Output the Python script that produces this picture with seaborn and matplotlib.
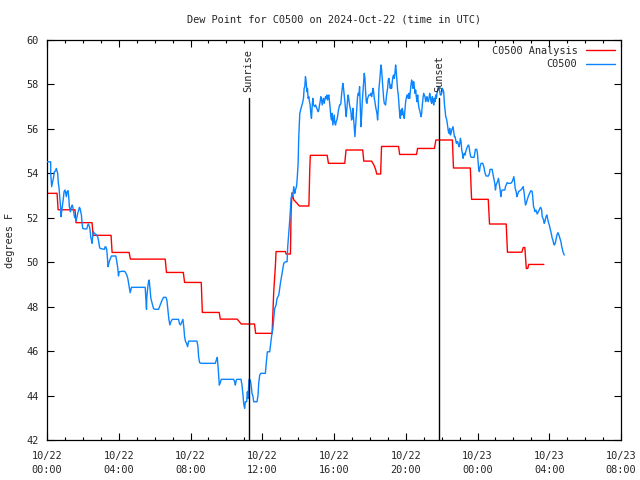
import matplotlib
matplotlib.use("Agg")
import matplotlib.pyplot as plt
import pandas as pd
import seaborn as sns
from matplotlib.ticker import FixedLocator, MultipleLocator

# ---- data (hours since 2024-10-22 00:00 UTC, dew point in F) ----
analysis_hours = [0.0, 0.56, 0.62, 1.56, 1.62, 2.51, 2.57, 3.57, 3.63, 4.58, 4.65, 6.59, 6.66, 7.6,
                  7.67, 8.6, 8.66, 9.6, 9.66, 10.6, 10.83, 11.57, 11.63, 12.55, 12.64, 12.73, 12.77,
                  13.29, 13.33, 13.57, 13.61, 13.66, 13.76, 13.85, 14.07, 14.6, 14.65, 14.68, 15.62,
                  15.69, 16.6, 16.67, 17.6, 17.66, 18.1, 18.17, 18.25, 18.33, 18.38, 18.6, 18.65,
                  19.6, 19.66, 20.6, 20.66, 21.6, 21.68, 22.6, 22.66, 23.6, 23.67, 24.6, 24.67, 25.6,
                  25.67, 26.47, 26.55, 26.64, 26.72, 26.8, 26.86, 27.7]
analysis_dewpt = [53.1, 53.1, 52.36, 52.36, 51.78, 51.78, 51.21, 51.21, 50.44, 50.44, 50.14, 50.14,
                  49.54, 49.54, 49.09, 49.09, 47.74, 47.74, 47.44, 47.44, 47.22, 47.22, 46.8, 46.8,
                  48.68, 49.8, 50.48, 50.48, 50.37, 50.37, 52.35, 53.13, 52.8, 52.73, 52.53, 52.53,
                  54.2, 54.81, 54.81, 54.45, 54.45, 55.05, 55.05, 54.55, 54.55, 54.45, 54.33, 54.15,
                  53.97, 53.97, 55.21, 55.21, 54.85, 54.85, 55.12, 55.12, 55.5, 55.5, 54.24, 54.24,
                  52.83, 52.83, 51.72, 51.72, 50.45, 50.45, 50.66, 50.66, 49.72, 49.72, 49.9, 49.9]

obs_hours = [
    0.0, 0.205, 0.206, 0.26, 0.317, 0.372, 0.41, 0.484, 0.521, 0.558, 0.596, 0.633, 0.67, 0.707,
    0.763, 0.782, 0.819, 0.857, 0.912, 0.95, 1.005, 1.043, 1.08, 1.117, 1.173, 1.21, 1.247, 1.303,
    1.34, 1.378, 1.415, 1.452, 1.49, 1.527, 1.583, 1.62, 1.676, 1.713, 1.769, 1.806, 1.843, 1.88,
    1.918, 1.955, 1.992, 2.067, 2.216, 2.272, 2.309, 2.365, 2.402, 2.44, 2.477, 2.514, 2.551, 2.588,
    2.644, 2.775, 2.83, 2.868, 2.923, 2.961, 3.203, 3.24, 3.296, 3.333, 3.37, 3.407, 3.445, 3.5,
    3.594, 3.836, 3.892, 3.948, 3.985, 4.022, 4.264, 4.357, 4.45, 4.506,
    4.635, 4.71, 5.473, 5.51, 5.547, 5.566, 5.622, 5.66, 5.696, 5.734, 5.79, 5.864, 5.938, 6.013,
    6.218, 6.311, 6.404, 6.497, 6.627, 6.683, 6.739, 6.795, 6.85, 6.907, 6.981, 7.335, 7.391, 7.447,
    7.52, 7.577, 7.633, 7.67, 7.726, 7.782, 7.838, 7.894, 8.36, 8.415, 8.452, 8.508, 8.601, 9.383,
    9.439, 9.495, 9.55, 9.607, 9.662, 9.718, 10.22,
    10.405, 10.46, 10.5, 10.555, 10.59, 10.815, 10.87, 10.927, 10.964, 11.02, 11.057, 11.13, 11.17,
    11.206, 11.262, 11.336, 11.39, 11.43, 11.485, 11.523, 11.709, 11.765, 11.802, 11.858, 11.914,
    12.174, 12.23, 12.286, 12.416, 12.472, 12.528, 12.584, 12.64, 12.695, 12.77, 12.826, 12.92,
    13.012, 13.105, 13.198, 13.29, 13.385, 13.42, 13.478, 13.534, 13.57, 13.608, 13.645, 13.7,
    13.757, 13.813, 13.85, 13.906, 13.943, 14.0, 14.036, 14.093,
    14.186, 14.242, 14.298, 14.335, 14.372, 14.409, 14.447, 14.484, 14.521, 14.558, 14.596, 14.633,
    14.67, 14.707, 14.744, 14.782, 14.819, 14.856, 14.931, 14.968, 15.005, 15.042, 15.08, 15.117,
    15.154, 15.191, 15.229, 15.266, 15.303, 15.34, 15.378, 15.415, 15.452, 15.489, 15.527, 15.564,
    15.601, 15.638, 15.675, 15.713, 15.75, 15.787, 15.824, 15.862, 15.899, 15.936, 15.973, 16.011,
    16.048, 16.085, 16.122, 16.16, 16.197, 16.234, 16.271, 16.309, 16.346, 16.383, 16.42, 16.458,
    16.495, 16.532, 16.569, 16.606, 16.644, 16.681, 16.718, 16.755, 16.793, 16.83, 16.867, 16.904,
    16.942, 16.979, 17.016, 17.053, 17.091, 17.128, 17.165, 17.202, 17.24, 17.277, 17.314, 17.351,
    17.389, 17.426, 17.463, 17.5, 17.537, 17.575, 17.612, 17.649, 17.686, 17.724, 17.761, 17.798,
    17.835, 17.873, 17.947, 18.022, 18.059, 18.096, 18.133, 18.171, 18.208, 18.245, 18.282, 18.32,
    18.357, 18.394, 18.431, 18.469, 18.506, 18.543, 18.58, 18.618, 18.655, 18.692, 18.729, 18.766,
    18.804,
    18.876, 18.932, 18.988, 19.025, 19.062, 19.1, 19.137, 19.174, 19.211, 19.248, 19.286, 19.323,
    19.36, 19.397, 19.435, 19.472, 19.509, 19.546, 19.584, 19.621, 19.658, 19.695, 19.733, 19.77,
    19.807, 19.844, 19.881, 19.919, 19.956, 19.993, 20.03, 20.068, 20.105, 20.142, 20.179, 20.217,
    20.254, 20.291, 20.328, 20.366, 20.403, 20.44, 20.477, 20.515, 20.552, 20.589, 20.626, 20.664,
    20.701, 20.738, 20.775, 20.812, 20.85, 20.887, 20.924, 20.961, 20.999, 21.036, 21.073, 21.11,
    21.148, 21.185, 21.222, 21.259, 21.297, 21.334, 21.371, 21.408, 21.446, 21.483, 21.52, 21.557,
    21.595, 21.632, 21.669, 21.706, 21.743, 21.781, 21.818, 21.855, 21.892, 21.93, 21.967, 22.004,
    22.041, 22.079, 22.116, 22.153, 22.19, 22.228, 22.265, 22.302, 22.339, 22.377, 22.414, 22.451,
    22.488, 22.526, 22.563, 22.6, 22.637, 22.674, 22.712, 22.749, 22.786, 22.823, 22.861, 22.898,
    22.935, 22.972, 23.01, 23.047, 23.084, 23.121, 23.159, 23.196, 23.233, 23.27, 23.308,
    23.344, 23.4, 23.437, 23.493, 23.53, 23.567, 23.623, 23.661, 23.81, 23.847, 23.884, 23.958,
    23.996, 24.033, 24.07, 24.107, 24.145, 24.2, 24.294, 24.35, 24.387, 24.424, 24.48, 24.61, 24.666,
    24.703, 24.815, 24.852, 24.889, 24.927, 24.964, 25.001, 25.038, 25.076, 25.113, 25.169, 25.225,
    25.262, 25.299, 25.336, 25.374, 25.523, 25.56, 25.597, 25.653, 25.709, 25.858, 25.932, 25.969,
    26.025, 26.063, 26.1, 26.156, 26.193, 26.249, 26.286, 26.416, 26.491, 26.547, 26.603, 26.64,
    26.677, 26.714, 26.77, 26.826, 26.9, 26.975, 27.049, 27.087, 27.124, 27.161, 27.198, 27.254,
    27.291, 27.329, 27.366, 27.422, 27.478, 27.515, 27.571, 27.608, 27.645, 27.682, 27.72, 27.757,
    27.794, 27.831, 27.869, 27.906, 27.943, 27.98, 28.018, 28.055, 28.092, 28.129, 28.166, 28.204,
    28.241, 28.278, 28.315, 28.353, 28.39, 28.427, 28.483, 28.539, 28.595, 28.651, 28.688, 28.725,
    28.762, 28.8, 28.837]
obs_dewpt = [
    54.52, 54.52, 54.0, 53.4, 53.62, 53.85, 54.07, 54.12, 54.22, 54.12, 54.0, 53.55, 53.37, 52.95,
    52.42, 52.05, 52.27, 52.53, 52.87, 53.17, 53.25, 53.1, 52.95, 53.17, 53.22, 52.95, 52.5, 52.27,
    52.42, 52.53, 52.57, 52.42, 52.27, 52.05, 51.97, 51.87, 52.05, 52.2, 52.35, 52.47, 52.42, 52.27,
    52.12, 51.75, 51.52, 51.5, 51.5, 51.67, 51.72, 51.6, 51.45, 51.12, 51.0, 50.85, 51.18, 51.37,
    51.3, 51.22, 51.12, 51.0, 50.7, 50.62, 50.58, 50.7, 50.67, 50.55, 50.17, 49.8, 49.95, 50.1,
    50.28, 50.28, 50.02, 49.72, 49.38, 49.57, 49.6, 49.57, 49.42, 49.27,
    48.63, 48.87, 48.87, 48.37, 47.88, 48.45, 48.9, 49.12, 49.2, 48.9, 48.37, 48.15, 47.92, 47.88,
    47.88, 48.07, 48.27, 48.42, 48.42, 48.3, 47.85, 47.43, 47.18, 47.32, 47.43, 47.43, 47.22, 47.18,
    47.32, 47.43, 47.02, 46.65, 46.42, 46.35, 46.2, 46.45, 46.45, 46.2, 45.75, 45.48, 45.45, 45.45,
    45.6, 45.72, 45.15, 44.47, 44.58, 44.73, 44.73,
    44.73, 44.62, 44.47, 44.7, 44.73, 44.73, 44.47, 44.02, 43.65, 43.42, 43.72, 43.72, 44.17,
    43.87, 44.73, 44.7, 44.4, 44.1, 43.95, 43.72, 43.72, 44.02, 44.55, 44.92, 45.0,
    45.0, 45.52, 45.97, 45.97, 46.35, 46.72, 46.95, 47.47, 47.92, 48.07, 48.37, 48.52,
    49.05, 49.5, 49.95, 50.02, 50.02, 50.7, 51.3, 51.9, 52.35, 52.87, 53.02, 52.95,
    53.4, 53.1, 53.25, 53.4, 53.7, 54.45, 55.65, 56.7,
    57.0, 57.15, 57.375, 57.825, 57.9, 58.35, 58.125, 57.675, 57.825, 57.375, 57.45, 57.225,
    57.075, 56.7, 56.475, 57.0, 57.375, 57.075, 57.0, 57.075, 57.0, 56.925, 56.85, 56.775,
    56.85, 57.075, 57.225, 57.45, 57.375, 57.075, 57.225, 57.375, 57.15, 57.3, 57.45, 57.375,
    57.525, 57.3, 57.45, 57.525, 57.225, 56.925, 56.55, 56.4, 56.7, 56.175, 56.4, 56.625,
    56.25, 56.175, 56.325, 56.4, 56.55, 56.775, 56.925, 57.075, 57.075, 57.15, 57.525, 57.825,
    58.05, 57.825, 57.525, 57.225, 56.85, 56.55, 56.925, 57.3, 57.525, 57.3, 57.075, 56.925,
    56.775, 56.4, 56.475, 56.925, 56.475, 56.1, 55.65, 56.1, 56.625, 57.075, 57.45, 57.6,
    57.525, 57.9, 57.075, 56.1, 56.55, 57.225, 57.675, 58.125, 58.5, 58.275, 57.675, 57.225,
    57.15, 57.375, 57.525, 57.525, 57.6, 57.45, 57.6, 57.825, 57.675, 57.375, 57.225, 57.0,
    56.85, 56.7, 56.4, 56.925, 57.825, 58.125, 58.5, 58.875, 58.65, 58.2, 57.825, 57.375,
    57.15,
    57.075, 57.525, 57.825, 58.2, 58.275, 58.05, 57.825, 57.975, 57.825, 58.125, 58.35, 58.425,
    58.275, 58.5, 58.875, 58.575, 58.125, 57.75, 57.525, 57.075, 56.7, 56.475, 56.85, 56.625,
    56.925, 56.775, 56.55, 56.475, 56.85, 57.225, 57.375, 57.525, 57.525, 57.375, 57.6, 57.375,
    57.675, 57.975, 58.2, 58.05, 57.825, 58.125, 57.9, 57.6, 57.75, 57.45, 57.225, 57.525,
    57.15, 56.925, 56.85, 56.7, 56.55, 56.7, 57.075, 57.375, 57.6, 57.525, 57.45, 57.225,
    57.375, 57.45, 57.3, 57.225, 57.375, 57.6, 57.45, 57.225, 57.15, 57.45, 57.3, 57.075,
    57.375, 57.225, 57.525, 57.375, 57.6, 57.75, 57.9, 57.825, 57.675, 57.525, 57.525, 57.6,
    57.825, 57.75, 57.675, 57.15, 56.85, 56.55, 56.475, 56.325, 56.1, 55.875, 55.8, 56.025,
    55.725, 55.8, 55.95, 56.025, 56.1, 55.875, 55.65, 55.65, 55.5, 55.35, 55.425, 55.425,
    55.275, 55.2, 55.35, 55.575, 55.425, 55.05, 54.9, 54.675, 54.825, 54.9, 54.825,
    54.975, 55.125, 55.2, 55.275, 55.2, 54.975, 54.75, 54.72, 54.72, 54.9, 55.08, 55.08,
    54.9, 54.525, 54.15, 54.075, 54.3, 54.45, 54.45, 54.3, 54.15, 54.0, 53.88, 53.88, 54.0,
    54.18, 54.18, 54.0, 53.85, 53.7, 53.55, 53.25, 53.475, 53.55, 53.625, 53.775, 53.475,
    53.25, 52.95, 53.175, 53.25, 53.25, 53.4, 53.475, 53.58, 53.55, 53.55, 53.625, 53.7,
    53.85, 53.625, 53.325, 53.175, 52.95, 53.07, 53.175, 53.25, 53.325, 53.4, 53.1, 52.8,
    52.575, 52.65, 52.8, 52.95, 53.1, 53.22, 53.175, 52.875, 52.5, 52.425, 52.275, 52.35,
    52.275, 52.17, 52.23, 52.32, 52.425, 52.47, 52.38, 52.05, 51.975, 51.9, 51.75, 51.825,
    51.975, 52.08, 52.125, 51.975, 51.825, 51.72, 51.63, 51.48, 51.375, 51.225, 51.075, 51.0,
    50.85, 50.775, 50.82, 50.925, 51.075, 51.225, 51.33, 51.225, 51.075, 50.925, 50.73, 50.625,
    50.475, 50.4, 50.325]

tick_hours = [0, 4, 8, 12, 16, 20, 24, 28, 32]
tick_labels = ["10/22\n00:00", "10/22\n04:00", "10/22\n08:00", "10/22\n12:00", "10/22\n16:00",
               "10/22\n20:00", "10/23\n00:00", "10/23\n04:00", "10/23\n08:00"]
y_ticks = [42, 44, 46, 48, 50, 52, 54, 56, 58, 60]
sun_events = ["Sunrise", "Sunset"]
sun_hours = [11.24, 21.85]
sun_line_top = 57.4
title_text = "Dew Point for C0500 on 2024-Oct-22 (time in UTC)"
series_names = ["C0500 Analysis", "C0500"]
series_colors = ["#ff0000", "#0a84ff"]

# ---- plotting ----
sns.set_style("ticks")
plt.rcParams["font.family"] = ["DejaVu Sans Mono"]
plt.rcParams["font.size"] = 7.4

fig = plt.figure(figsize=(6.4, 4.8), dpi=100)
ax = fig.add_axes([47 / 640, 40 / 480, (621 - 47) / 640, 400 / 480])

df_a = pd.DataFrame({"hour": analysis_hours, "dewpt": analysis_dewpt})
df_o = pd.DataFrame({"hour": obs_hours, "dewpt": obs_dewpt})
sns.lineplot(data=df_a, x="hour", y="dewpt", color=series_colors[0], lw=1.0, estimator=None,
             sort=False, ax=ax, label=series_names[0], zorder=2)
sns.lineplot(data=df_o, x="hour", y="dewpt", color=series_colors[1], lw=1.0, estimator=None,
             sort=False, ax=ax, label=series_names[1], zorder=3)

for name, h in zip(sun_events, sun_hours):
    ax.plot([h, h], [42, sun_line_top], color="black", lw=1.0, zorder=4)
    ax.text(h, sun_line_top + 0.25, name, rotation=90, ha="center", va="bottom",
            fontsize=7.4, zorder=5)

ax.set_xlim(0, 32)
ax.set_ylim(42, 60)
ax.xaxis.set_major_locator(FixedLocator(tick_hours))
ax.set_xticklabels(tick_labels, linespacing=1.45)
ax.xaxis.set_minor_locator(MultipleLocator(1))
ax.set_yticks(y_ticks)
ax.set_yticklabels([str(v) for v in y_ticks])
ax.tick_params(which="major", direction="in", length=5, width=0.8, top=True, right=True,
               labelsize=7.4, pad=6, color="black")
ax.tick_params(axis="x", which="major", pad=8)
ax.tick_params(which="minor", direction="in", length=2.5, width=0.8, top=True, right=True,
               color="black")
ax.set_xlabel("")
ax.set_ylabel("")
for s in ax.spines.values():
    s.set_visible(True)
    s.set_linewidth(0.9)
    s.set_color("black")

fig.text(10 / 640, 1 - 240 / 480, "degrees F", rotation=90, ha="center", va="center", fontsize=7.4)
fig.text((47 + 621) / 2 / 640, 1 - 20 / 480, title_text, ha="center", va="center", fontsize=7.4)

leg = ax.legend(loc="upper right", markerfirst=False, frameon=False, fontsize=7.4,
                handlelength=2.9, handletextpad=0.8, borderaxespad=0.25, borderpad=0.3,
                labelspacing=0.35)
for t in leg.get_texts():
    t.set_ha("right")

fig.savefig("out.png", dpi=100)
